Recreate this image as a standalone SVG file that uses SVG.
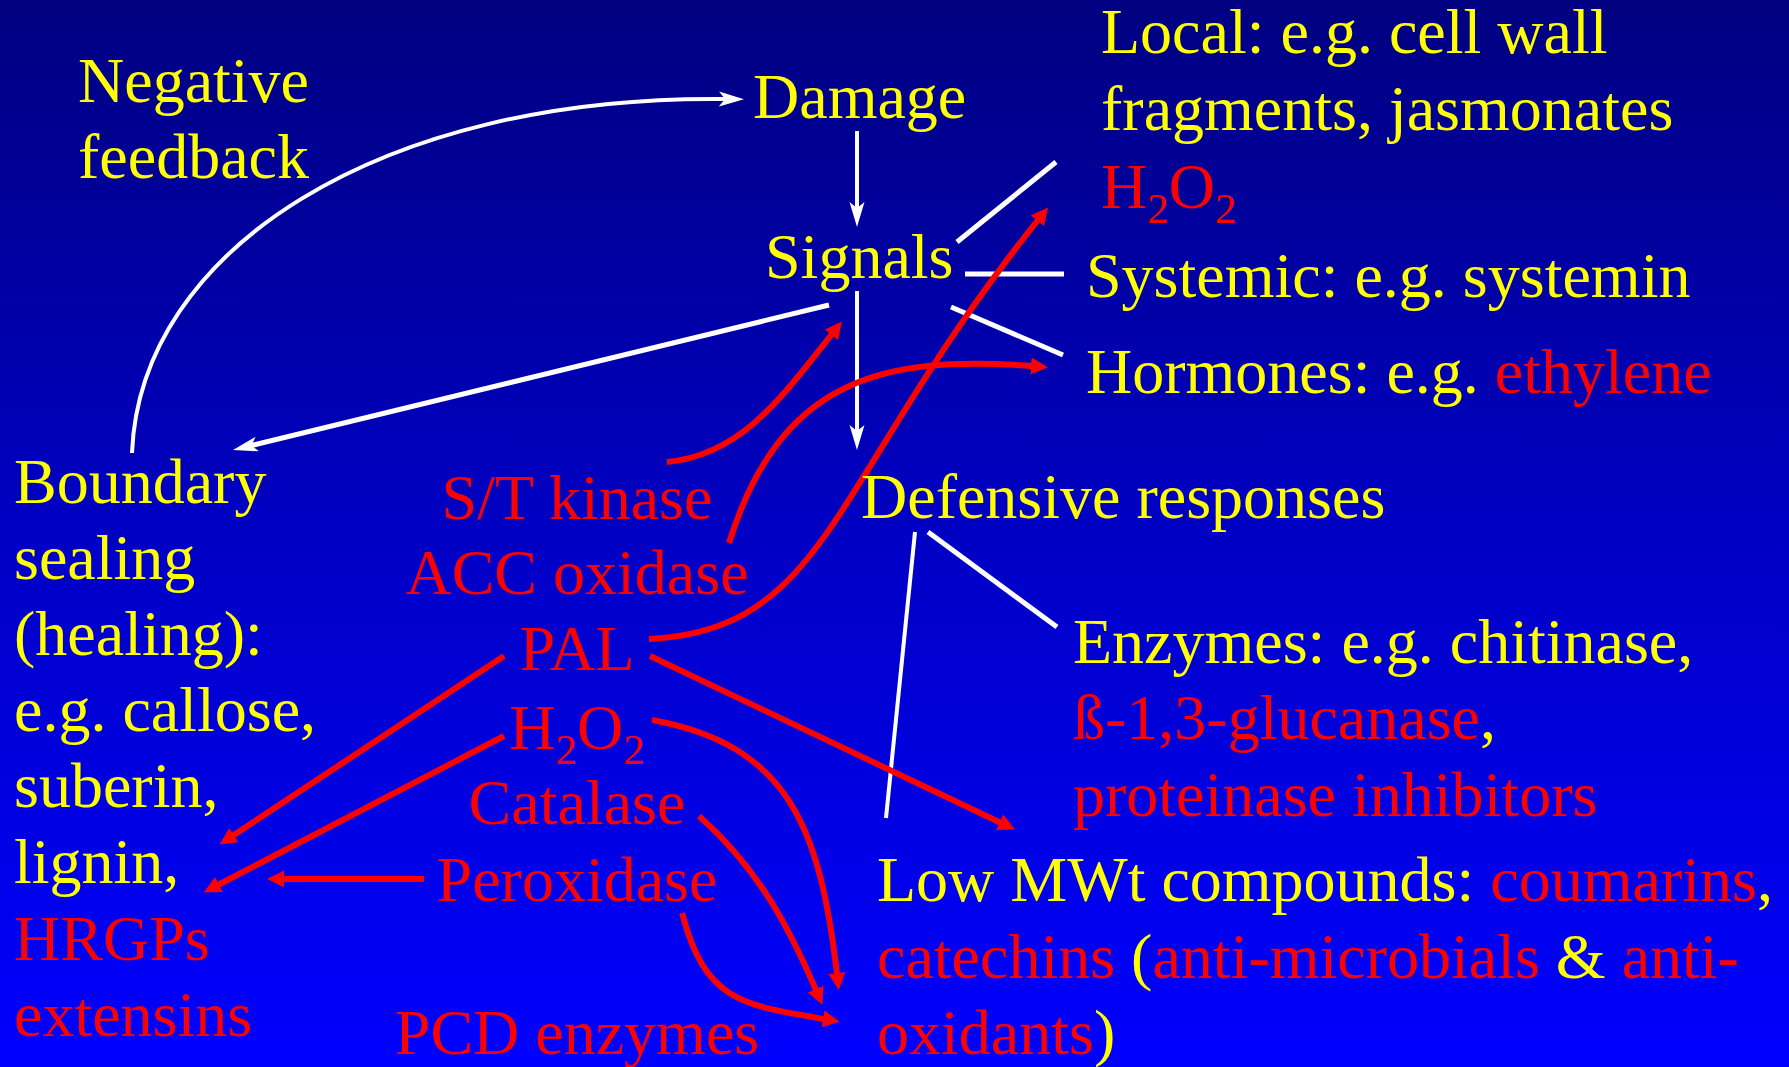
<svg xmlns="http://www.w3.org/2000/svg" width="1789" height="1067" viewBox="0 0 1789 1067">
<defs>
<linearGradient id="bg" x1="0" y1="0" x2="0" y2="1">
<stop offset="0" stop-color="#000080"/>
<stop offset="0.5" stop-color="#0000C4"/>
<stop offset="1" stop-color="#0000FF"/>
</linearGradient>
<marker id="wa" markerUnits="userSpaceOnUse" markerWidth="26" markerHeight="16" refX="6" refY="7.5" orient="auto">
<path d="M0,0 L25,7.5 L0,15 L6,7.5 z" fill="#fff"/>
</marker>
<marker id="ra" markerUnits="userSpaceOnUse" markerWidth="18" markerHeight="18" refX="1" refY="8.5" orient="auto">
<path d="M0,0 L17,8.5 L0,17 z" fill="#f00"/>
</marker>
<style>
text{font-family:"Liberation Serif","Times New Roman",serif;font-size:64px;fill:#ff0}
.r{fill:#f00}
.y{fill:#ff0}
.m{text-anchor:middle}
.sub{font-size:43px}
.w{fill:none;stroke:#fff;stroke-width:5}
.wt{fill:none;stroke:#fff;stroke-width:4}
.rd{fill:none;stroke:#f00;stroke-width:6}
</style>
</defs>
<rect width="1789" height="1067" fill="url(#bg)"/>
<g id="connectors">
<path class="wt" d="M132,453 C140,250 380,95 725,99" marker-end="url(#wa)"/>
<path class="wt" d="M857,131 L857,208" marker-end="url(#wa)"/>
<path class="wt" d="M857,291 L857,431" marker-end="url(#wa)"/>
<path class="w" d="M829,305 L251.5,445.5" marker-end="url(#wa)"/>
<path class="w" d="M957,242 L1056,162"/>
<path class="w" d="M965,274 L1064,274"/>
<path class="w" d="M951,307 L1063,355"/>
<path class="wt" d="M915,532 L886,818"/>
<path class="w" d="M928,532 L1057,627"/>
<path class="rd" d="M667,462 C740,455 780,400 832,334" marker-end="url(#ra)"/>
<path class="rd" d="M729,543 C780,380 880,355 1032,366" marker-end="url(#ra)"/>
<path class="rd" d="M649,639 C830,630 830,480 1038,220" marker-end="url(#ra)"/>
<path class="rd" d="M650,656 L1000.6,822.7" marker-end="url(#ra)"/>
<path class="rd" d="M504,656 L233,835.6" marker-end="url(#ra)"/>
<path class="rd" d="M504,736 L218,885" marker-end="url(#ra)"/>
<path class="rd" d="M424,879 L283,879" marker-end="url(#ra)"/>
<path class="rd" d="M652,720 C790,745 820,830 837,974" marker-end="url(#ra)"/>
<path class="rd" d="M699,816 C760,870 790,930 816,990" marker-end="url(#ra)"/>
<path class="rd" d="M682,913 C705,1000 740,1005 824,1019" marker-end="url(#ra)"/>
</g>
<g id="negative-feedback"><text x="78" y="102">Negative</text><text x="78" y="178">feedback</text></g>
<g id="damage"><text x="753" y="118">Damage</text></g>
<g id="signals"><text x="765" y="278">Signals</text></g>
<g id="local"><text x="1101" y="53">Local: e.g. cell wall</text><text x="1101" y="130">fragments, jasmonates</text><text x="1101" y="208" class="r">H<tspan class="sub" dy="15">2</tspan><tspan dy="-15">O</tspan><tspan class="sub" dy="15">2</tspan></text></g>
<g id="systemic"><text x="1086" y="297">Systemic: e.g. systemin</text></g>
<g id="hormones"><text x="1086" y="393">Hormones: e.g. <tspan class="r">ethylene</tspan></text></g>
<g id="boundary">
<text x="14" y="503">Boundary</text>
<text x="14" y="579">sealing</text>
<text x="14" y="655">(healing):</text>
<text x="14" y="731">e.g. callose,</text>
<text x="14" y="807">suberin,</text>
<text x="14" y="883">lignin,</text>
<text x="14" y="960" class="r">HRGPs</text>
<text x="14" y="1036" class="r">extensins</text>
</g>
<g id="st-kinase"><text class="r m" x="577" y="519">S/T kinase</text></g>
<g id="acc-oxidase"><text class="r m" x="577" y="594">ACC oxidase</text></g>
<g id="pal"><text class="r m" x="577" y="670">PAL</text></g>
<g id="h2o2"><text class="r m" x="577" y="749">H<tspan class="sub" dy="15">2</tspan><tspan dy="-15">O</tspan><tspan class="sub" dy="15">2</tspan></text></g>
<g id="catalase"><text class="r m" x="577" y="824">Catalase</text></g>
<g id="peroxidase"><text class="r m" x="577" y="901">Peroxidase</text></g>
<g id="pcd-enzymes"><text class="r m" x="577" y="1054">PCD enzymes</text></g>
<g id="defensive"><text x="861" y="518">Defensive responses</text></g>
<g id="enzymes">
<text x="1073" y="663">Enzymes: e.g. chitinase,</text>
<text x="1073" y="739"><tspan class="r">ß-1,3-glucanase</tspan>,</text>
<text x="1073" y="816" class="r">proteinase inhibitors</text>
</g>
<g id="low-mwt">
<text x="877" y="901">Low MWt compounds: <tspan class="r">coumarins</tspan>,</text>
<text x="877" y="978"><tspan class="r">catechins</tspan> (<tspan class="r">anti-microbials</tspan> &amp; <tspan class="r">anti-</tspan></text>
<text x="877" y="1054"><tspan class="r">oxidants</tspan>)</text>
</g>
</svg>
